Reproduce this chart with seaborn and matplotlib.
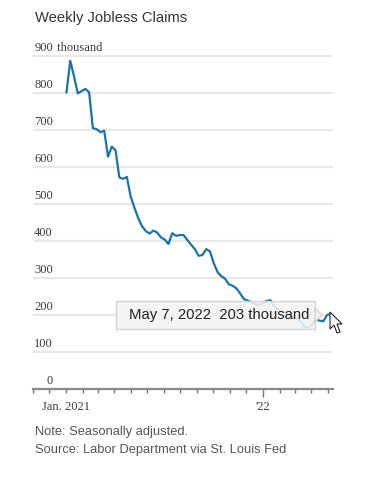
import pandas as pd
import seaborn as sns
import matplotlib.pyplot as plt
import matplotlib.dates as mdates
import matplotlib.transforms as mtransforms
from matplotlib.patches import Rectangle, Polygon

# Weekly initial jobless claims, thousands (week ending)
weeks = pd.date_range("2021-01-02", "2022-05-07", freq="7D")
claims_2021 = [801, 887, 845, 799, 805,
               811, 802, 705, 702,
               694, 698, 628, 655,
               645, 572, 568, 573,
               520, 490, 462, 440, 427,
               420, 428, 423, 410,
               404, 392, 421, 414, 416,
               416, 403, 390, 378,
               360, 362, 378, 372,
               340, 316, 305, 298, 283,
               279, 272, 258, 243,
               239, 234, 229, 227]
claims_2022 = [232, 238, 240, 222, 215,
               210, 205, 200, 195,
               190, 182, 168, 167,
               174, 188, 185, 183, 200,
               203]
y_ticks = [0, 100, 200, 300, 400, 500, 600, 700, 800, 900]
x_labels = ["Jan. 2021", "'22"]
tooltip = "May 7, 2022  203 thousand"

df = pd.DataFrame({"week": weeks, "claims": claims_2021 + claims_2022})

W, H = 365, 490
def px(x, y):
    return x / W, 1 - y / H

sns.set_style("white")
plt.rcParams["font.family"] = ["Liberation Sans", "DejaVu Sans"]
serif = ["Liberation Serif", "DejaVu Serif"]

fig = plt.figure(figsize=(W / 100, H / 100), dpi=100)
ax = fig.add_axes([33 / W, 1 - 389 / H, 300 / W, (389 - 48.6) / H])

sns.lineplot(data=df, x="week", y="claims", ax=ax, color="#1a74a6", linewidth=1.6, zorder=3)

ax.set_xlim(pd.Timestamp("2020-11-01"), pd.Timestamp("2022-05-11"))
ax.set_ylim(0, 920)
for s in ["top", "right", "left"]:
    ax.spines[s].set_visible(False)
ax.spines["bottom"].set_color("#8a8a8a")
ax.spines["bottom"].set_linewidth(1.6)
ax.set_xlabel("")
ax.set_ylabel("")

# gridlines + labels sitting above them
ax.set_yticks([])
for v in y_ticks[1:]:
    ax.axhline(v, color="#e8e8e8", linewidth=1.6, zorder=1)
lab_tr = mtransforms.offset_copy(ax.get_yaxis_transform(), fig=fig, x=0, y=1.2, units="points")
for v in y_ticks:
    ax.text(20 / 300, v, str(v), transform=lab_tr, ha="right", va="bottom",
            fontsize=9, family=serif, color="#3a3a3a")
ax.text(21 / 300, y_ticks[-1], " thousand", transform=lab_tr, ha="left", va="bottom",
        fontsize=9, family=serif, color="#3a3a3a")

# x ticks: monthly minor, labelled majors
ax.xaxis.set_minor_locator(mdates.MonthLocator())
ax.set_xticks([pd.Timestamp("2021-01-01"), pd.Timestamp("2022-01-01")])
ax.set_xticklabels(x_labels, family=serif, fontsize=9, color="#3a3a3a")
ax.tick_params(axis="x", which="minor", length=3, width=1, color="#777777", direction="out", bottom=True)
ax.tick_params(axis="x", which="major", length=6, width=1, color="#777777", direction="out", bottom=True, pad=3)
ax.xaxis.get_major_ticks()[0].tick1line.set_markersize(3)

# title and notes
fig.text(*px(35, 18), "Weekly Jobless Claims", ha="left", va="center", fontsize=10.6, color="#333333")
fig.text(*px(35, 432), "Note: Seasonally adjusted.", ha="left", va="center", fontsize=9.3, color="#555555")
fig.text(*px(35, 450), "Source: Labor Department via St. Louis Fed", ha="left", va="center", fontsize=9.3, color="#555555")

# hover tooltip
x0, y0 = px(116, 329)
fig.add_artist(Rectangle((x0, y0), 199 / W, 28 / H, transform=fig.transFigure,
                         facecolor="#f3f3f3", edgecolor="#cfcfcf", linewidth=1, alpha=0.88, zorder=5))
fig.add_artist(Polygon([px(315, 308), px(322, 315), px(315, 322)], closed=True, transform=fig.transFigure,
                       facecolor="#f3f3f3", edgecolor="#cfcfcf", linewidth=1, alpha=0.88, zorder=5))
fig.text(*px(219, 315), tooltip, ha="center", va="center", fontsize=10.7, color="#222222", zorder=6)

# mouse cursor
cur = [(330, 312), (330, 329), (334, 325), (337, 333), (340, 332), (337, 324), (342, 324)]
fig.add_artist(Polygon([px(*p) for p in cur], closed=True, transform=fig.transFigure,
                       facecolor="white", edgecolor="#222222", linewidth=0.8, zorder=7))

fig.savefig("out.png", dpi=100)
